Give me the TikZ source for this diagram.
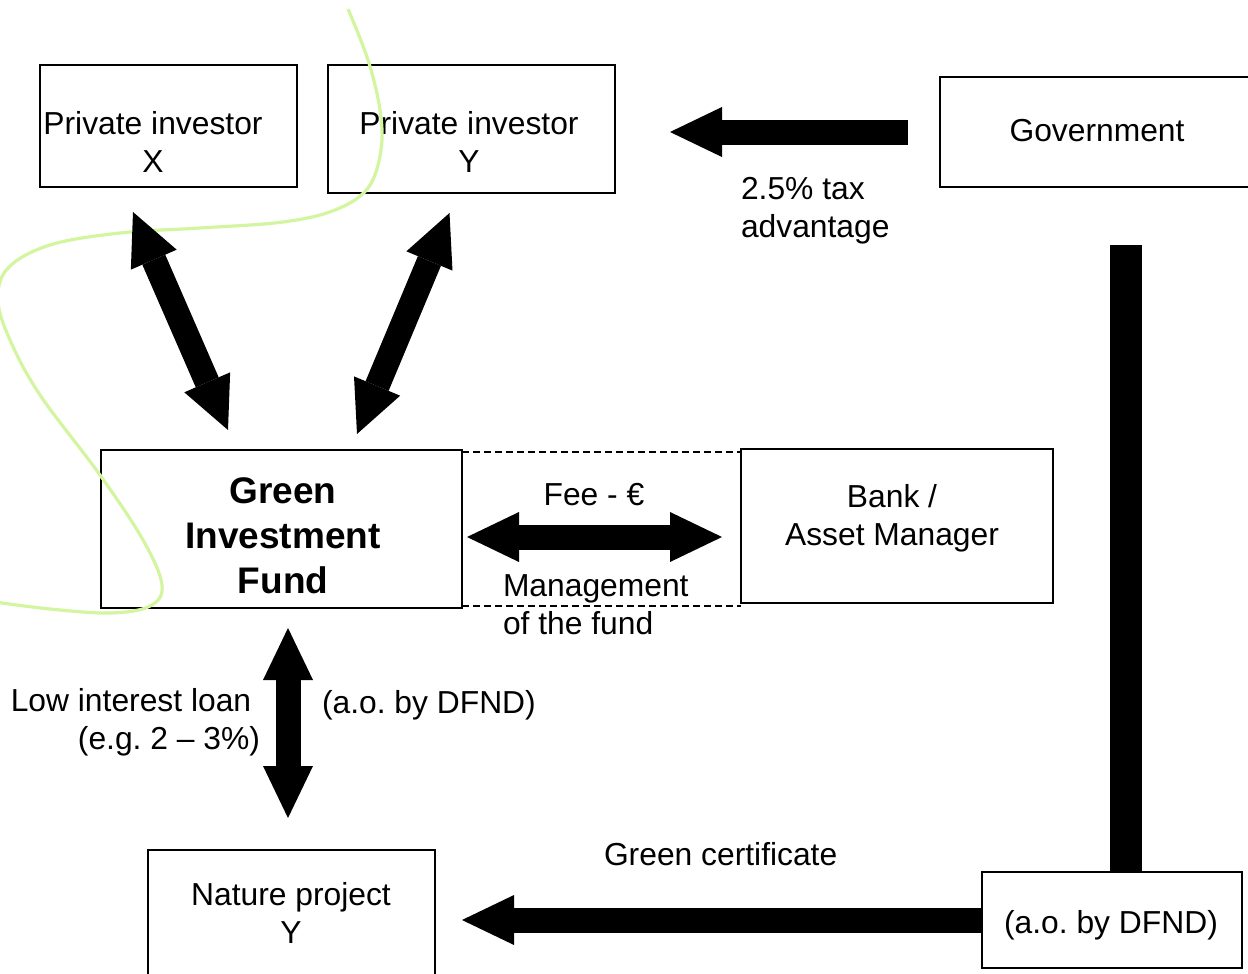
\documentclass[tikz,border=0pt]{standalone}
\usepackage{fontspec}
\setmainfont{Liberation Sans}
\usetikzlibrary{arrows.meta,calc}
\definecolor{curvegreen}{RGB}{212,245,160}
\frenchspacing
\begin{document}
\begin{tikzpicture}[x=1pt,y=-1pt,
  >={Triangle[length=52pt 0 0,width=50pt 0 0,line width=0pt]},
  every node/.style={inner sep=0pt,outer sep=0pt},
  txt/.style={font=\fontsize{31.8}{38}\selectfont\frenchspacing,align=center},
  boldtxt/.style={font=\fontsize{37}{45}\selectfont\bfseries,align=center},
  box/.style={draw=black,line width=1.6pt,rectangle},
  fat/.style={line width=25pt,draw=black},
  bar/.style={line width=32pt,draw=black},
  link/.style={draw=black,line width=1.3pt,dash pattern=on 7pt off 4pt},
  curve/.style={draw=curvegreen,line width=3.2pt}
]
\useasboundingbox (0,0) rectangle (1248,974);

% boxes
\node[box,minimum width=257pt,minimum height=122pt] (px) at (168.5,126) {};
\node[box,minimum width=287pt,minimum height=128pt] (py) at (471.5,129) {};
\node[box,minimum width=314pt,minimum height=110pt] (gov) at (1097,132) {};
\node[box,minimum width=361pt,minimum height=158pt] (gif) at (281.5,529) {};
\node[box,minimum width=312pt,minimum height=154pt] (bank) at (897,526) {};
\node[box,minimum width=287pt,minimum height=140pt] (nat) at (291.5,920) {};
\node[box,minimum width=260pt,minimum height=96pt] (dfnd) at (1112,920) {};

% box texts (base = baseline of last line)
\node[txt,anchor=base] (pxt) at (153,172) {Private investor\\X};
\node[txt,anchor=base] (pyt) at (469,172) {Private investor\\Y};
\node[txt,anchor=base] (govt) at (1097,141) {Government};
\node[boldtxt,anchor=base] (gift) at (283,593) {Green\\Investment\\Fund};
\node[txt,anchor=base] (bankt) at (892,545) {Bank /\\Asset Manager};
\node[txt,anchor=base] (natt) at (291,943) {Nature project\\Y};
\node[txt,anchor=base] (dfndt) at (1111,933) {(a.o. by DFND)};

% dashed links
\draw[link] ($(gif.north east)+(0,2)$) -- ($(bank.west |- gif.north east)+(0,2)$);
\draw[link] ($(gif.south east)+(0,-2)$) -- ($(bank.west |- gif.south east)+(0,-2)$);

% green hand-drawn curve
\draw[curve] plot[smooth,tension=0.6] coordinates {(348,9) (368,60) (380,110) (381,150) (368,188) (335,210) (283,222) (200,228) (120,233) (50,245) (8,268) (-2,300) (10,340) (40,395) (100,475) (143,540) (162,585) (150,606) (110,613) (50,609) (-5,602)};

% fat arrows
\draw[fat,->] ($(gov.west)+(-32,0)$) -- ($(py.east |- gov.west)+(55,0)$);
\draw[bar] ($(gov.south)+(29,58)$) -- ($(dfnd.north)+(14,0)$);
\draw[fat,->] (dfnd.west) -- ($(nat.east |- dfnd.west)+(27,0)$);
\draw[fat,<->] ($(gif.east)+(5,8)$) -- ($(bank.west |- gif.east)+(-19,8)$);
\draw[fat,<->] ($(gif.south)+(6.5,20)$) -- ($(nat.north)+(-3.5,-32)$);
\draw[fat,<->] ($(px.south)+(-35.5,25)$) -- ($(gif.north)+(-53.5,-20)$);
\draw[fat,<->] ($(py.south)+(-22,20)$) -- ($(gif.north)+(75.5,-16)$);

% labels
\node[txt,align=left,anchor=base west] (tax) at (741,237) {2.5\% tax\\advantage};
\node[txt,anchor=base] (fee) at (594,505) {Fee - €};
\node[txt,align=left,anchor=base west] (mgmt) at (503,634) {Management\\of the fund};
\node[txt,align=right,anchor=base east] (loan) at (260,749) {Low interest loan\hspace*{8.8pt}\\(e.g. 2 – 3\%)};
\node[txt,align=left,anchor=base west] (aob) at (322,713) {(a.o. by DFND)};
\node[txt,align=left,anchor=base west] (cert) at (604,865) {Green certificate};
\end{tikzpicture}
\end{document}
